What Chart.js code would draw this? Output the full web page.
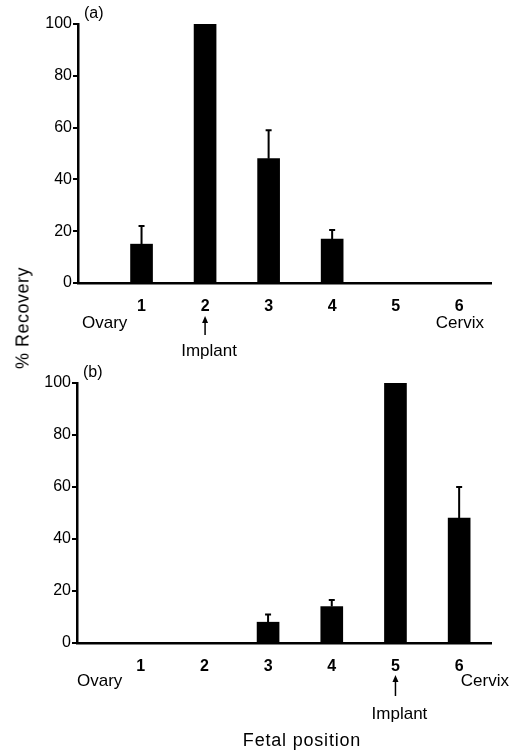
<!DOCTYPE html>
<html>
<head>
<meta charset="utf-8">
<script src="https://cdn.jsdelivr.net/npm/chart.js@4/dist/chart.umd.min.js"></script>
<style>
  body { margin: 0; background: #fff; }
  #page { position: relative; width: 511px; height: 751px; font-family: "Liberation Sans", Arial, sans-serif; color: #000; }
  .box { position: absolute; left: 0; width: 511px; }
  #boxA { top: 0; height: 360px; }
  #boxB { top: 360px; height: 391px; }
  #ylab { position: absolute; left: 23px; top: 318px; transform: translate(-50%, -50%) rotate(-90deg); font-size: 18px; letter-spacing: 0.5px; white-space: nowrap; }
  #xlab { position: absolute; left: 302px; top: 740px; transform: translate(-50%, -50%); font-size: 18px; letter-spacing: 0.8px; white-space: nowrap; }
</style>
</head>
<body>
<div id="page">
  <div class="box" id="boxA"><canvas id="chartA"></canvas></div>
  <div class="box" id="boxB"><canvas id="chartB"></canvas></div>
  <div id="ylab">% Recovery</div>
  <div id="xlab">Fetal position</div>
</div>
<script>
// fetal positions 1..6
const positions = [1, 2, 3, 4, 5, 6];
const tickLabels = ['1', '2', '3', '4', '5', '6'];
const yTicks = [0, 20, 40, 60, 80, 100];

// panel (a): implant at position 2
const recoveryA = [15, 100, 48, 17, 0, 0];
const errorA = [7, 0, 11, 3.5, 0, 0];
const implantA = 2;

// panel (b): implant at position 5
const recoveryB = [0, 0, 8, 14, 100, 48];
const errorB = [0, 0, 3, 2.5, 0, 12];
const implantB = 5;

Chart.defaults.font.family = '"Liberation Sans", Arial, sans-serif';
Chart.defaults.color = '#000';

// whisker (upper error only) + labels under the axis
const extrasPlugin = {
  id: 'extras',
  afterDatasetsDraw(chart, args, opts) {
    const ctx = chart.ctx;
    const xs = chart.scales.x, ys = chart.scales.y;
    ctx.save();
    ctx.strokeStyle = '#000';
    ctx.lineWidth = 2;
    opts.values.forEach((v, i) => {
      const e = opts.errors[i];
      if (!e) return;
      const x = xs.getPixelForValue(positions[i]);
      const y0 = ys.getPixelForValue(v);
      const y1 = ys.getPixelForValue(v + e);
      ctx.beginPath();
      ctx.moveTo(x, y0);
      ctx.lineTo(x, y1);
      ctx.moveTo(x - 3, y1);
      ctx.lineTo(x + 3, y1);
      ctx.stroke();
    });

    const base = chart.chartArea.bottom;
    ctx.fillStyle = '#000';
    ctx.textBaseline = 'middle';
    ctx.font = '17px "Liberation Sans", Arial, sans-serif';
    ctx.textAlign = 'left';
    ctx.fillText('Ovary', opts.ovaryX, base + opts.endY);
    ctx.textAlign = 'right';
    ctx.fillText('Cervix', opts.cervixX, base + opts.endY);

    // implant arrow
    const ax = xs.getPixelForValue(opts.implant);
    ctx.beginPath();
    ctx.lineWidth = 1.5;
    ctx.moveTo(ax, base + opts.arrowTop + 4);
    ctx.lineTo(ax, base + opts.arrowBottom);
    ctx.stroke();
    ctx.beginPath();
    ctx.moveTo(ax, base + opts.arrowTop - 1);
    ctx.lineTo(ax - 3, base + opts.arrowTop + 6);
    ctx.lineTo(ax + 3, base + opts.arrowTop + 6);
    ctx.closePath();
    ctx.fill();
    ctx.textAlign = 'center';
    ctx.fillText('Implant', ax + 4, base + opts.implantY);

    // panel letter
    ctx.textAlign = 'left';
    ctx.font = '16px "Liberation Sans", Arial, sans-serif';
    ctx.fillText(opts.letter, chart.chartArea.left + 6, chart.chartArea.top - 10);
    ctx.restore();
  }
};

function makePanel(id, values, errors, implant, letter, top, extra) {
  return new Chart(document.getElementById(id), {
    type: 'bar',
    data: {
      datasets: [{
        data: positions.map((p, i) => ({ x: p, y: values[i] })),
        backgroundColor: '#000',
        borderWidth: 0,
        barThickness: 22
      }]
    },
    options: {
      responsive: true,
      maintainAspectRatio: false,
      animation: false,
      layout: { padding: { top: top, right: 20, left: 0, bottom: 0 } },
      plugins: {
        legend: { display: false },
        tooltip: { enabled: false },
        extras: Object.assign({ values: values, errors: errors, implant: implant, letter: letter }, extra)
      },
      scales: {
        x: {
          type: 'linear',
          offset: false,
          min: 0,
          max: 6.5,
          afterBuildTicks: s => { s.ticks = positions.map(v => ({ value: v })); },
          afterFit: s => { s.height = extra.xh; },
          grid: { display: false, offset: false },
          border: { display: true, color: '#000', width: 2.5 },
          ticks: {
            padding: 6,
            font: { size: 16, weight: 'bold' },
            callback: (v) => tickLabels[positions.indexOf(v)] || ''
          }
        },
        y: {
          min: 0,
          max: 100,
          afterBuildTicks: s => { s.ticks = yTicks.map(v => ({ value: v })); },
          afterFit: s => { s.width = extra.yw; },
          grid: { display: true, drawOnChartArea: false, drawTicks: true, tickLength: 5, color: '#000', lineWidth: 2 },
          border: { display: true, color: '#000', width: 2.5 },
          ticks: { padding: 1, font: { size: 16 } }
        }
      }
    },
    plugins: [extrasPlugin]
  });
}

makePanel('chartA', recoveryA, errorA, implantA, '(a)', 24, {
  xh: 77, yw: 78, ovaryX: 82, cervixX: 484, endY: 40,
  arrowTop: 34, arrowBottom: 52, implantY: 68
});
makePanel('chartB', recoveryB, errorB, implantB, '(b)', 23, {
  xh: 108, yw: 77, ovaryX: 77, cervixX: 509, endY: 38,
  arrowTop: 33, arrowBottom: 53, implantY: 71
});
</script>
</body>
</html>
